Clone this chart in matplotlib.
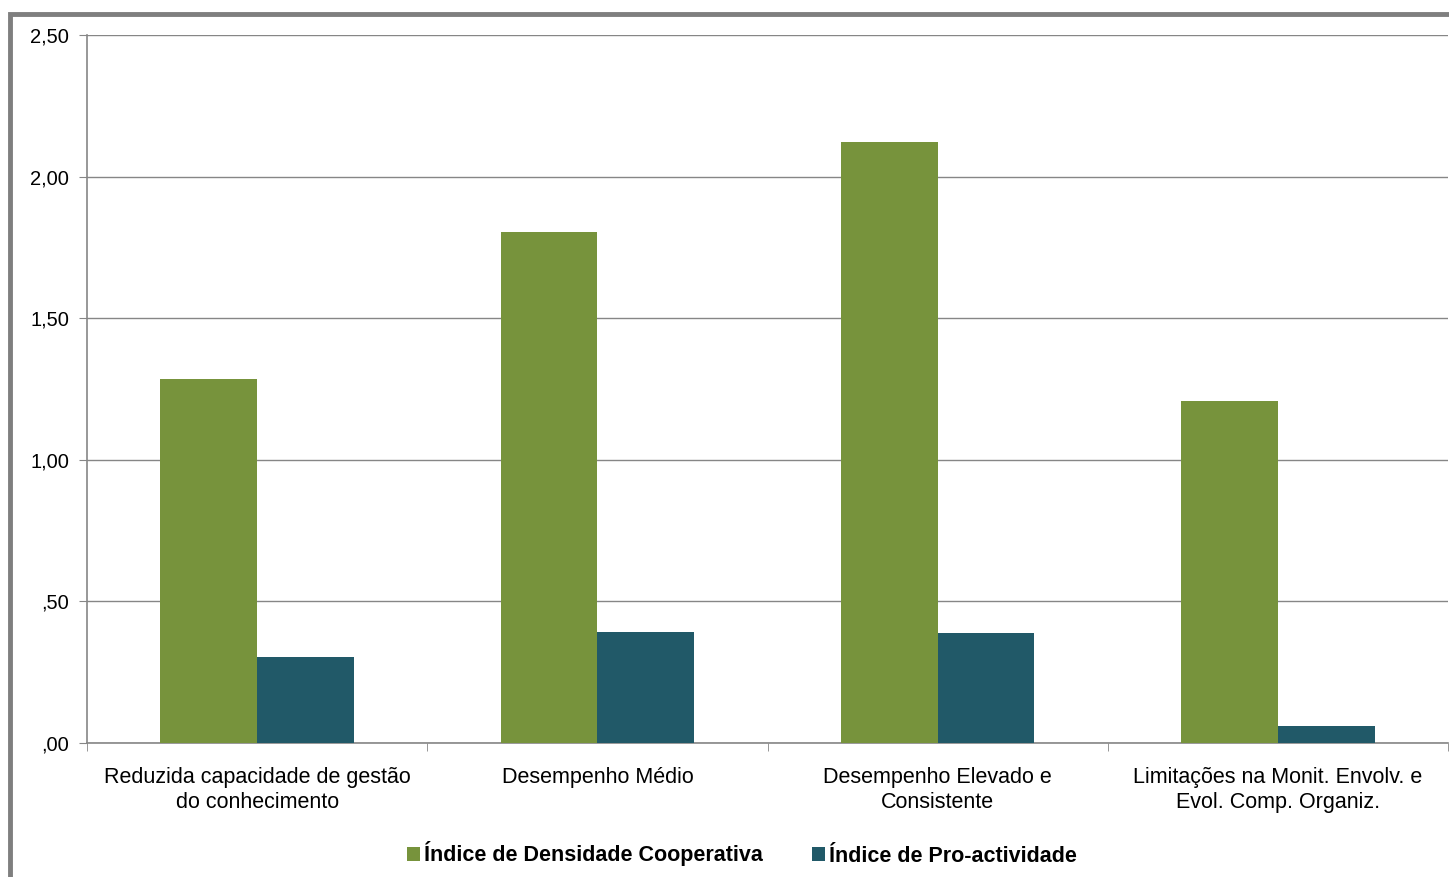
import matplotlib
matplotlib.use('Agg')
import matplotlib.pyplot as plt
import numpy as np
from matplotlib.patches import Rectangle

plt.rcParams['font.family'] = ['Liberation Sans', 'DejaVu Sans']

categories = ['Reduzida capacidade de gestão\ndo conhecimento',
              'Desempenho Médio',
              'Desempenho Elevado e\nConsistente',
              'Limitações na Monit. Envolv. e\nEvol. Comp. Organiz.']
densidade = [1.285, 1.805, 2.122, 1.208]
proatividade = [0.304, 0.392, 0.388, 0.060]
series_names = ['Índice de Densidade Cooperativa', 'Índice de Pro-actividade']
yticks = [0, 0.5, 1.0, 1.5, 2.0, 2.5]
ytick_labels = [',00', ',50', '1,00', '1,50', '2,00', '2,50']

green = '#77933c'
teal = '#215968'
gray = '#868686'

W, H = 1449, 877
fig = plt.figure(figsize=(W / 100, H / 100), dpi=100)

# outer chart frame, cut off at the right and bottom edges
fig.patches.append(Rectangle((10 / W, -0.05), 1.2, 1 - 14 / H + 0.05,
                             transform=fig.transFigure, fill=False,
                             edgecolor='#7f7f7f', lw=3.5, zorder=0))

ax = fig.add_axes([87 / W, 1 - 743 / H, (1448 - 87) / W, (743 - 35) / H])

x = np.arange(len(categories))
bw = 0.284
ax.bar(x - bw / 2, densidade, bw, color=green, label=series_names[0], zorder=3)
ax.bar(x + bw / 2, proatividade, bw, color=teal, label=series_names[1], zorder=3)

ax.set_xlim(-0.5, len(categories) - 0.5)
ax.set_ylim(0, 2.5)
ax.set_yticks(yticks)
ax.set_yticklabels(ytick_labels)
ax.yaxis.grid(True, color=gray, lw=1, zorder=0)
ax.tick_params(axis='y', length=6, color=gray, pad=7, labelsize=14.5)

# category labels between the boundary ticks
ax.set_xticks(x)
ax.set_xticklabels(categories, fontsize=15.5, linespacing=1.25)
ax.tick_params(axis='x', length=0, pad=17)
ax.set_xticks(np.arange(len(categories) + 1) - 0.5, minor=True)
ax.tick_params(axis='x', which='minor', length=6, color=gray)

for s in ['top', 'right']:
    ax.spines[s].set_visible(False)
for s in ['left', 'bottom']:
    ax.spines[s].set_color(gray)
    ax.spines[s].set_linewidth(1.2)

leg = fig.legend(loc='center', bbox_to_anchor=(742 / W, 1 - 854 / H), ncol=2,
                 frameon=False, handlelength=0.6, handleheight=0.6,
                 handletextpad=0.2, columnspacing=2.3,
                 prop={'weight': 'bold', 'size': 15.5})

fig.savefig('out.png', dpi=100)
